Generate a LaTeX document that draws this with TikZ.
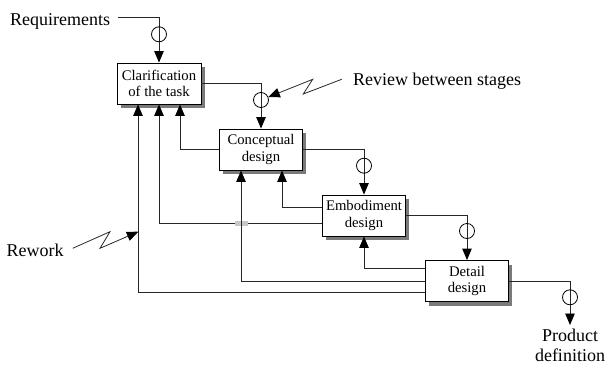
\documentclass[tikz,border=0pt]{standalone}
\usepackage{fontspec}
\setmainfont{Liberation Serif}
\usetikzlibrary{arrows.meta,shadows,calc}

\tikzset{
  stagebox/.style={draw=black, line width=0.9pt, fill=white, minimum width=83pt,
    minimum height=41pt, inner sep=0pt, align=center,
    font=\fontsize{14.7}{16.5}\selectfont,
    drop shadow={shadow xshift=3.5pt, shadow yshift=-4pt, fill=black!52, opacity=1}},
  gate/.style={circle, draw=black, line width=0.8pt, minimum size=15pt, inner sep=0pt},
  flow/.style={draw=black!85, line width=0.9pt,
    -{Triangle[length=11.5pt 0 0, width=9.5pt 0 0, color=black]}},
  label/.style={inner sep=0pt, font=\fontsize{18}{20}\selectfont},
}

\begin{document}
\begin{tikzpicture}[x=1pt,y=-1pt]
  \useasboundingbox (0,0) rectangle (605,367);

  % design stages
  \node[stagebox, minimum width=84pt] (clar) at (159,83.5) {Clarification\\of the task};
  \node[stagebox] (conc) at (261,149.5) {Conceptual\\design};
  \node[stagebox] (emb)  at (364,215.5) {Embodiment\\design};
  \node[stagebox] (det)  at (467,281)   {Detail\\design};

  % labels
  \node[label, anchor=base west] (req) at (10,25) {Requirements};
  \node[label, anchor=base west] (review) at (353,85) {Review between stages};
  \node[label, anchor=base west] (rework) at (6.5,256.5) {Rework};
  \node[label, anchor=north, align=center, inner sep=4pt] (prod) at (570,325) {Product\\definition};

  \coordinate (reqout) at (118,17.3);
  \coordinate (revout) at (341.7,79.3);
  \coordinate (rwout)  at (72.7,248.3);
  \coordinate (rwtip)  at (138.3,231.7);

  % forward flow between stages
  \draw[flow] (reqout) -| (clar.north);
  \draw[flow] (clar.east) -| (conc.north);
  \draw[flow] (conc.east) -| (emb.north);
  \draw[flow] (emb.east) -| (det.north);
  \draw[flow] (det.east) -| (prod.north);

  % rework loops back to earlier stages
  \draw[flow] (conc.west) -| ([xshift=21pt]clar.south);
  \draw[flow] ([yshift=-7.8pt]emb.west) -| (clar.south);
  \draw[flow] ([yshift=-11.3pt]det.west) -| ([xshift=-21pt]clar.south);
  \draw[flow] ([yshift=8.2pt]emb.west) -| ([xshift=21pt]conc.south);
  % crossing mark where two loops pass
  \fill[black!22] (235,220.9) rectangle (247.7,225.7);
  \draw[flow] (det.west) -| ([xshift=-20pt]conc.south);
  \draw[flow] ([yshift=12.7pt]det.west) -| (emb.south);

  % review gates
  \node[gate] (g1) at (159,34.3) {};
  \node[gate] (g2) at (261,100) {};
  \node[gate] (g3) at (364,165.7) {};
  \node[gate] (g4) at (467,231) {};
  \node[gate] (g5) at (570,297.3) {};

  % lightning pointers
  \draw[flow, line width=0.8pt] (revout) -- (303.3,94) -- (312.7,79.3) -- (g2);
  \draw[flow, line width=0.8pt] (rwout) -- (110,231.7) -- (100,248.3) -- (rwtip);
\end{tikzpicture}
\end{document}
